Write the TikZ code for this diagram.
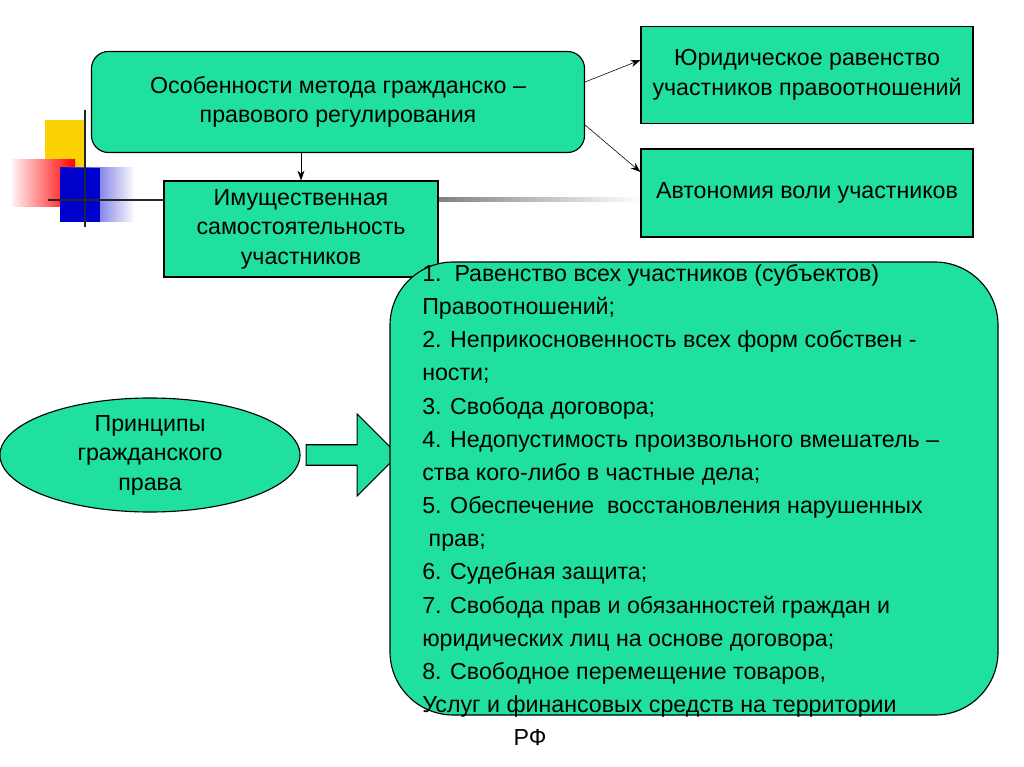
\documentclass[tikz,border=0pt]{standalone}
\usepackage{fontspec}
\setmainfont{Liberation Sans}
\usetikzlibrary{arrows.meta,shapes.geometric,shapes.arrows,positioning}
\definecolor{mintColour}{RGB}{32,224,160}
\tikzset{
    slide/.style={x=0.025cm, y=-0.025cm},
    greenbox/.style={draw, fill=mintColour, line width=0.8pt, align=center, font=\fontsize{16.5}{21}\selectfont},
    link/.style={-{Stealth[length=7pt,width=5pt]}, thin}
}
\begin{document}
\begin{tikzpicture}[slide]
    \useasboundingbox (0,0) rectangle (1024,767);
    % decoration
    \fill[yellow!70!orange] (45,120) rectangle (85,170);
    \shade[left color=red!5, right color=red] (12,160) rectangle (75,207);
    \shade[left color=blue!80!black, right color=white] (60,168) rectangle (135,222);
    \fill[blue!80!black] (60,168) rectangle (100,222);
    \draw[line width=2pt, black!85] (85,110) -- (85,227);
    \draw[line width=2pt, black!85] (48,200) -- (165,200);
    \shade[left color=black!50, right color=white] (438,198) rectangle (640,202);
    % boxes
    \node[greenbox, rounded corners=12pt, minimum width=493*0.025cm, minimum height=101*0.025cm] (method) at (338,102)
        {Особенности метода гражданско –\\правового регулирования};
    \node[greenbox, minimum width=332*0.025cm, minimum height=97*0.025cm] (equality) at (807,75)
        {Юридическое равенство\\участников правоотношений};
    \node[greenbox, minimum width=332*0.025cm, minimum height=88*0.025cm] (autonomy) at (807,193)
        {Автономия воли участников};
    \node[greenbox, minimum width=274*0.025cm, minimum height=96*0.025cm] (property) at (301,229)
        {Имущественная\\самостоятельность\\участников};
    \node[greenbox, ellipse, minimum width=300*0.025cm, minimum height=114*0.025cm, inner sep=0pt] (principles) at (150,455)
        {Принципы\\гражданского\\права};
    \node[greenbox, single arrow, minimum height=92*0.025cm, minimum width=82*0.025cm,
          single arrow head extend=0.5cm, single arrow tip angle=90, inner sep=0pt] (pointer) at (347,455) {\phantom{x}};
    \draw[greenbox, rounded corners=45pt] (390,262) rectangle (998,715);
    \node[anchor=north west, align=left, inner sep=0pt, font=\fontsize{16.5}{23.6}\selectfont] (list) at (422,264)
        {1.\ \ Равенство всех участников (субъектов)\\
         Правоотношений;\\
         2. Неприкосновенность всех форм собствен -\\
         ности;\\
         3. Свобода договора;\\
         4. Недопустимость произвольного вмешатель –\\
         ства кого-либо в частные дела;\\
         5. Обеспечение\ \ восстановления нарушенных\\
         \ прав;\\
         6. Судебная защита;\\
         7. Свобода прав и обязанностей граждан и\\
         юридических лиц на основе договора;\\
         8. Свободное перемещение товаров,\\
         Услуг и финансовых средств на территории\\
         \hspace{65pt}РФ};
    % connectors
    \draw[link] (method.east |- 0,82) -- (equality.west |- 0,60);
    \draw[link] (method.east |- 0,125) -- (autonomy.west |- 0,172);
    \draw[link] (method.south -| property.north) -- (property.north);
\end{tikzpicture}
\end{document}
